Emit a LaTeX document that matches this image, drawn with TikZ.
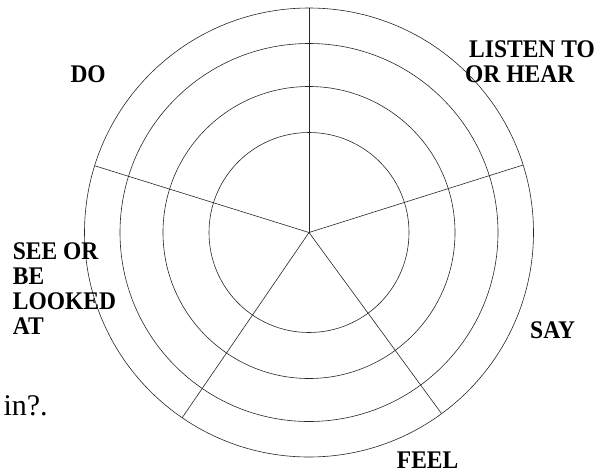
\documentclass[tikz,border=0pt]{standalone}
\usepackage{fontspec}
\usepackage{graphicx}
\setmainfont{Liberation Serif}
\newcommand{\tallbox}[1]{\scalebox{1}[1.08]{#1}}
\begin{document}
\begin{tikzpicture}[x=1pt,y=-1pt,
  ring/.style={draw=black!85,line width=0.6pt},
  spoke/.style={draw=black!85,line width=0.6pt},
  lbl/.style={anchor=base west,inner sep=0pt,font=\fontsize{23.5}{23.15}\selectfont\bfseries},
  note/.style={anchor=base west,inner sep=0pt,font=\fontsize{30}{32}\selectfont}]
\useasboundingbox (0,0) rectangle (610,474);
\coordinate (c) at (309,232.5);
\foreach \r in {100,146,189,224.5}{
  \draw[ring] (c) circle[radius=\r pt];
}
\coordinate (s1) at ([shift={(90:224.5pt)}]c);
\coordinate (s2) at ([shift={(17.5:224.5pt)}]c);
\coordinate (s3) at ([shift={(162.7:224.5pt)}]c);
\coordinate (s4) at ([shift={(235.6:224.5pt)}]c);
\coordinate (s5) at ([shift={(306.2:224.5pt)}]c);
\foreach \s in {s1,s2,s3,s4,s5}{
  \draw[spoke] (c) -- (\s);
}
\node[lbl] (listen) at (465,57) {\tallbox{\begin{tabular}[t]{@{}l@{}}\hspace{4pt}LISTEN TO\\OR HEAR\end{tabular}}};
\node[lbl] (do) at (70.3,82.4) {\tallbox{DO}};
\node[lbl] (see) at (12.7,259.3) {\tallbox{\begin{tabular}[t]{@{}l@{}}SEE OR\\BE\\LOOKED\\AT\end{tabular}}};
\node[lbl] (say) at (530,338) {\tallbox{SAY}};
\node[lbl] (feel) at (396.7,468) {\tallbox{FEEL}};
\node[note] (in) at (3.3,415) {in?.};
\end{tikzpicture}
\end{document}
